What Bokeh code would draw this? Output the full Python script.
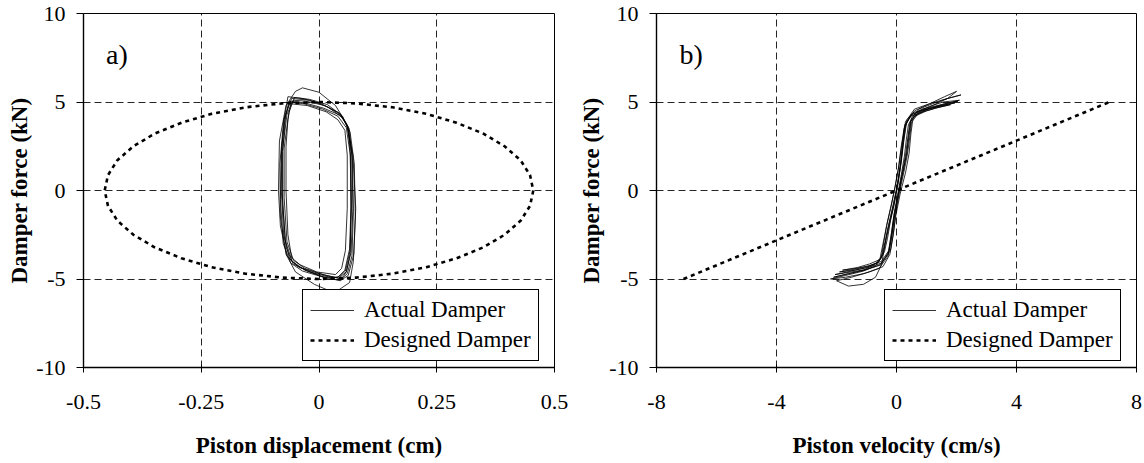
from bokeh.plotting import figure
from bokeh.layouts import row
from bokeh.models import FixedTicker, Legend, LegendItem, Label, Range1d
from bokeh.embed import file_html
from bokeh.resources import INLINE

# ---------------- data ----------------
disp_ticks = [-0.5, -0.25, 0, 0.25, 0.5]
disp_tick_labels = ["-0.5", "-0.25", "0", "0.25", "0.5"]
vel_ticks = [-8, -4, 0, 4, 8]
vel_tick_labels = ["-8", "-4", "0", "4", "8"]
force_ticks = [-10, -5, 0, 5, 10]
force_tick_labels = ["-10", "-5", "0", "5", "10"]

# Actual damper: force-displacement loops (cm, kN)
disp_loop1_x = [-0.062, -0.030, 0.010, 0.045, 0.062, 0.070, 0.072, 0.068, 0.058, 0.042, 0.000, -0.040, -0.062, -0.075, -0.080, -0.079, -0.072, -0.062]
disp_loop1_f = [5.05, 4.95, 4.65, 4.25, 3.60, 2.00, -1.00, -3.50, -4.60, -4.95, -4.70, -4.35, -3.90, -2.50, 0.00, 2.50, 4.10, 5.05]
disp_loop2_x = [-0.050, -0.035, 0.000, 0.035, 0.058, 0.072, 0.078, 0.074, 0.062, 0.045, 0.005, -0.045, -0.068, -0.082, -0.086, -0.084, -0.070, -0.050]
disp_loop2_f = [5.60, 5.80, 5.55, 4.80, 3.80, 2.00, -1.00, -3.60, -4.80, -5.10, -4.85, -4.30, -3.70, -2.00, 0.00, 2.80, 4.80, 5.60]
disp_loop3_x = [-0.058, -0.020, 0.020, 0.050, 0.066, 0.075, 0.077, 0.073, 0.065, 0.040, 0.025, -0.010, -0.050, -0.070, -0.082, -0.083, -0.075, -0.058]
disp_loop3_f = [5.20, 5.10, 4.70, 4.10, 3.30, 1.50, -1.50, -4.00, -5.20, -5.65, -5.70, -5.30, -4.60, -3.60, -1.50, 1.50, 4.00, 5.20]
disp_loop4_x = [-0.060, -0.025, 0.015, 0.040, 0.055, 0.060, 0.060, 0.056, 0.048, 0.035, -0.005, -0.040, -0.058, -0.066, -0.070, -0.070, -0.066, -0.060]
disp_loop4_f = [4.90, 4.80, 4.45, 4.00, 3.40, 2.00, -1.00, -3.40, -4.40, -4.75, -4.60, -4.20, -3.80, -2.50, 0.00, 2.50, 4.00, 4.90]
disp_loop5_x = [-0.066, -0.035, 0.005, 0.042, 0.060, 0.068, 0.068, 0.065, 0.055, 0.040, 0.010, -0.035, -0.060, -0.076, -0.082, -0.080, -0.074, -0.066]
disp_loop5_f = [5.30, 5.20, 4.90, 4.40, 3.70, 2.20, -0.80, -3.30, -4.50, -4.90, -4.90, -4.55, -4.10, -3.00, -0.50, 2.00, 4.00, 5.30]
disp_loop6_x = [-0.055, -0.028, 0.012, 0.046, 0.064, 0.071, 0.073, 0.070, 0.060, 0.046, 0.020, -0.030, -0.057, -0.072, -0.078, -0.078, -0.068, -0.055]
disp_loop6_f = [5.10, 5.05, 4.80, 4.30, 3.50, 1.80, -1.20, -3.70, -4.70, -5.05, -5.00, -4.50, -4.00, -2.80, -0.20, 2.20, 4.30, 5.10]
disp_loop7_x = [-0.064, -0.032, 0.008, 0.040, 0.058, 0.066, 0.069, 0.066, 0.056, 0.044, 0.030, -0.020, -0.055, -0.070, -0.077, -0.077, -0.071, -0.064]
disp_loop7_f = [5.00, 4.90, 4.60, 4.20, 3.55, 2.10, -0.90, -3.40, -4.55, -4.85, -4.95, -4.60, -4.15, -3.20, -0.80, 2.20, 4.20, 5.00]
disp_loop8_x = [-0.052, -0.020, 0.018, 0.050, 0.062, 0.067, 0.068, 0.066, 0.058, 0.048, 0.015, -0.030, -0.054, -0.068, -0.074, -0.074, -0.064, -0.052]
disp_loop8_f = [5.25, 5.15, 4.85, 4.20, 3.45, 1.90, -1.10, -3.60, -4.60, -5.00, -4.80, -4.40, -3.95, -2.90, -0.40, 2.40, 4.40, 5.25]

# Actual damper: force-velocity loops (cm/s, kN)
vel_loop1_v = [-2.05, -1.5, -1.0, -0.6, -0.45, -0.35, -0.22, -0.08, 0.05, 0.15, 0.22, 0.30, 0.55, 1.0, 1.5, 2.05,
               1.6, 1.1, 0.7, 0.45, 0.38, 0.30, 0.18, 0.05, -0.08, -0.18, -0.28, -0.55, -1.0, -1.5, -2.05]
vel_loop1_f = [-4.75, -4.55, -4.35, -4.05, -3.6, -2.8, -1.8, -0.8, 0.4, 1.6, 2.8, 3.9, 4.4, 4.6, 4.8, 5.05,
               4.9, 4.65, 4.35, 3.9, 3.0, 2.0, 0.9, -0.3, -1.4, -2.6, -3.6, -4.2, -4.45, -4.6, -4.75]
vel_loop2_v = [-2.2, -1.7, -1.1, -0.7, -0.5, -0.38, -0.25, -0.1, 0.05, 0.16, 0.25, 0.35, 0.6, 1.1, 1.6, 2.15,
               1.7, 1.2, 0.75, 0.5, 0.42, 0.33, 0.2, 0.06, -0.07, -0.17, -0.28, -0.58, -1.1, -1.7, -2.2]
vel_loop2_f = [-5.0, -4.8, -4.55, -4.25, -3.8, -2.9, -1.9, -0.8, 0.4, 1.6, 2.9, 4.0, 4.6, 4.9, 5.15, 5.4,
               5.2, 4.9, 4.6, 4.1, 3.1, 2.0, 0.9, -0.3, -1.5, -2.7, -3.7, -4.4, -4.7, -4.9, -5.0]
vel_loop3_v = [-1.8, -1.3, -0.9, -0.55, -0.4, -0.3, -0.2, -0.07, 0.04, 0.13, 0.2, 0.27, 0.48, 0.9, 1.3, 1.8,
               1.4, 1.0, 0.62, 0.4, 0.33, 0.26, 0.15, 0.03, -0.08, -0.17, -0.26, -0.5, -0.9, -1.35, -1.8]
vel_loop3_f = [-4.5, -4.35, -4.15, -3.9, -3.45, -2.7, -1.7, -0.7, 0.4, 1.5, 2.6, 3.7, 4.2, 4.45, 4.65, 4.85,
               4.7, 4.5, 4.2, 3.75, 2.9, 1.9, 0.8, -0.3, -1.3, -2.4, -3.4, -4.0, -4.25, -4.4, -4.5]
vel_loop4_v = [-2.0, -1.6, -1.1, -0.7, -0.5, -0.4, -0.3, -0.15, 0.0, 0.12, 0.22, 0.32, 0.6, 1.1, 1.6, 2.0,
               1.7, 1.2, 0.8, 0.55, 0.48, 0.42, 0.3, 0.12, -0.02, -0.12, -0.22, -0.45, -0.9, -1.5, -2.0]
vel_loop4_f = [-5.1, -5.4, -5.3, -4.9, -4.2, -3.2, -2.2, -1.1, 0.1, 1.3, 2.6, 3.8, 4.5, 4.9, 5.3, 5.6,
               5.2, 4.8, 4.5, 4.1, 3.2, 2.1, 1.0, -0.2, -1.4, -2.6, -3.6, -4.3, -4.6, -4.9, -5.1]
vel_loop5_v = [-1.9, -1.4, -1.0, -0.65, -0.5, -0.42, -0.32, -0.18, -0.05, 0.08, 0.18, 0.28, 0.5, 0.95, 1.45, 1.95,
               1.5, 1.05, 0.7, 0.5, 0.44, 0.36, 0.24, 0.1, -0.02, -0.1, -0.2, -0.5, -0.95, -1.4, -1.9]
vel_loop5_f = [-4.6, -4.45, -4.3, -4.1, -3.7, -2.9, -1.9, -0.9, 0.2, 1.4, 2.6, 3.6, 4.3, 4.55, 4.75, 4.95,
               4.8, 4.6, 4.3, 3.85, 3.0, 2.0, 1.0, -0.1, -1.2, -2.4, -3.4, -4.1, -4.35, -4.5, -4.6]
vel_loop6_v = [-2.1, -1.6, -1.1, -0.75, -0.55, -0.45, -0.33, -0.2, -0.06, 0.06, 0.15, 0.25, 0.45, 0.85, 1.5, 2.1,
               1.55, 1.1, 0.7, 0.48, 0.4, 0.34, 0.22, 0.08, -0.05, -0.14, -0.24, -0.52, -1.05, -1.6, -2.1]
vel_loop6_f = [-4.9, -4.7, -4.5, -4.2, -3.85, -3.0, -2.0, -1.0, 0.1, 1.2, 2.4, 3.5, 4.2, 4.6, 4.85, 5.1,
               5.0, 4.75, 4.45, 4.0, 3.1, 2.1, 1.1, 0.0, -1.2, -2.4, -3.4, -4.2, -4.5, -4.7, -4.9]

# Designed damper (linear viscous): ellipse in F-x, straight line in F-v
designed_disp_x = [0, 0.079, 0.156, 0.228, 0.292, 0.349, 0.394, 0.428, 0.448, 0.455,
                   0.448, 0.428, 0.394, 0.349, 0.292, 0.228, 0.156, 0.079, 0,
                   -0.079, -0.156, -0.228, -0.292, -0.349, -0.394, -0.428, -0.448, -0.455,
                   -0.448, -0.428, -0.394, -0.349, -0.292, -0.228, -0.156, -0.079, 0]
designed_disp_f = [5, 4.92, 4.70, 4.33, 3.83, 3.21, 2.50, 1.71, 0.87, 0,
                   -0.87, -1.71, -2.50, -3.21, -3.83, -4.33, -4.70, -4.92, -5,
                   -4.92, -4.70, -4.33, -3.83, -3.21, -2.50, -1.71, -0.87, 0,
                   0.87, 1.71, 2.50, 3.21, 3.83, 4.33, 4.70, 4.92, 5]
designed_vel_v = [-7.1, -3.55, 0, 3.55, 7.1]
designed_vel_f = [-5.0, -2.5, 0, 2.5, 5.0]

disp_loops_x = [disp_loop1_x, disp_loop2_x, disp_loop3_x, disp_loop4_x,
                disp_loop5_x, disp_loop6_x, disp_loop7_x, disp_loop8_x]
disp_loops_f = [disp_loop1_f, disp_loop2_f, disp_loop3_f, disp_loop4_f,
                disp_loop5_f, disp_loop6_f, disp_loop7_f, disp_loop8_f]
vel_loops_v = [vel_loop1_v, vel_loop2_v, vel_loop3_v, vel_loop4_v, vel_loop5_v, vel_loop6_v]
vel_loops_f = [vel_loop1_f, vel_loop2_f, vel_loop3_f, vel_loop4_f, vel_loop5_f, vel_loop6_f]

AXIS_FONT = "Times New Roman"
TEXT_FONT = "Liberation Serif"
HEIGHT = 460


def make_panel(width, border_left, border_right, xr, xticks, xlabels, xtitle,
               loops_x, loops_y, des_x, des_y, tag, tag_x, legend_x, grid_x, title_standoff):
    p = figure(width=width, height=HEIGHT, x_range=Range1d(*xr), y_range=Range1d(-10, 10),
               output_backend="svg", toolbar_location=None,
               min_border_left=border_left, min_border_right=border_right,
               min_border_top=13, min_border_bottom=92)
    p.outline_line_color = "black"
    p.outline_line_width = 1
    p.outline_line_alpha = 1

    p.xaxis.ticker = FixedTicker(ticks=xticks)
    p.xaxis.major_label_overrides = {t: s for t, s in zip(xticks, xlabels)}
    p.yaxis.ticker = FixedTicker(ticks=force_ticks)
    p.yaxis.major_label_overrides = {t: s for t, s in zip(force_ticks, force_tick_labels)}

    p.axis.axis_line_color = "black"
    p.axis.axis_line_width = 1.4
    p.axis.major_tick_line_color = "black"
    p.axis.major_tick_line_width = 1
    p.axis.minor_tick_line_color = None
    p.axis.major_label_text_font = AXIS_FONT
    p.axis.major_label_text_font_size = "22px"
    p.axis.major_label_text_color = "black"
    p.axis.axis_label_text_font = AXIS_FONT
    p.axis.axis_label_text_font_style = "bold"
    p.axis.axis_label_text_font_size = "23px"
    p.axis.axis_label_text_color = "black"

    p.xaxis.major_tick_in = 3
    p.xaxis.major_tick_out = 5
    p.xaxis.major_label_standoff = 22
    p.xaxis.axis_label = xtitle
    p.xaxis.axis_label_standoff = 21
    p.yaxis.major_tick_in = 0
    p.yaxis.major_tick_out = 7
    p.yaxis.major_label_standoff = 11
    p.yaxis.axis_label = "Damper force (kN)"
    p.yaxis.axis_label_standoff = title_standoff

    p.xgrid.ticker = FixedTicker(ticks=grid_x)
    p.ygrid.ticker = FixedTicker(ticks=[-5, 0, 5])
    p.grid.grid_line_color = "black"
    p.grid.grid_line_alpha = 0.85
    p.grid.grid_line_width = 1
    p.grid.grid_line_dash = "7 4"

    r_act = p.multi_line(xs=loops_x, ys=loops_y, line_color="black", line_width=0.8)
    r_des = p.line(des_x, des_y, line_color="black", line_width=2.6, line_dash="4 4")

    legend = Legend(items=[LegendItem(label="Actual Damper", renderers=[r_act]),
                           LegendItem(label="Designed Damper", renderers=[r_des])],
                    location=(legend_x, 6))
    legend.border_line_color = "black"
    legend.border_line_width = 1
    legend.border_line_alpha = 1
    legend.background_fill_alpha = 1
    legend.label_text_font = TEXT_FONT
    legend.label_text_font_size = "23px"
    legend.label_text_color = "black"
    legend.glyph_width = 44
    legend.glyph_height = 20
    legend.label_standoff = 10
    legend.padding = 7
    legend.spacing = 4
    legend.label_height = 20
    p.add_layout(legend)

    p.add_layout(Label(x=tag_x, y=6.8, text=tag, text_font=TEXT_FONT, text_font_size="28px",
                       text_color="black"))
    return p


p1 = make_panel(570, 83, 16, (-0.5, 0.5), disp_ticks, disp_tick_labels, "Piston displacement (cm)",
                disp_loops_x, disp_loops_f, designed_disp_x, designed_disp_f, "a)", -0.452, 219,
                [-0.25, 0, 0.25], 1)
p2 = make_panel(572, 86, 6, (-8, 8), vel_ticks, vel_tick_labels, "Piston velocity (cm/s)",
                vel_loops_v, vel_loops_f, designed_vel_v, designed_vel_f, "b)", -7.23, 228,
                [-4, 0, 4], 2)

open("out.html", "w").write(file_html(row(p1, p2), INLINE))
